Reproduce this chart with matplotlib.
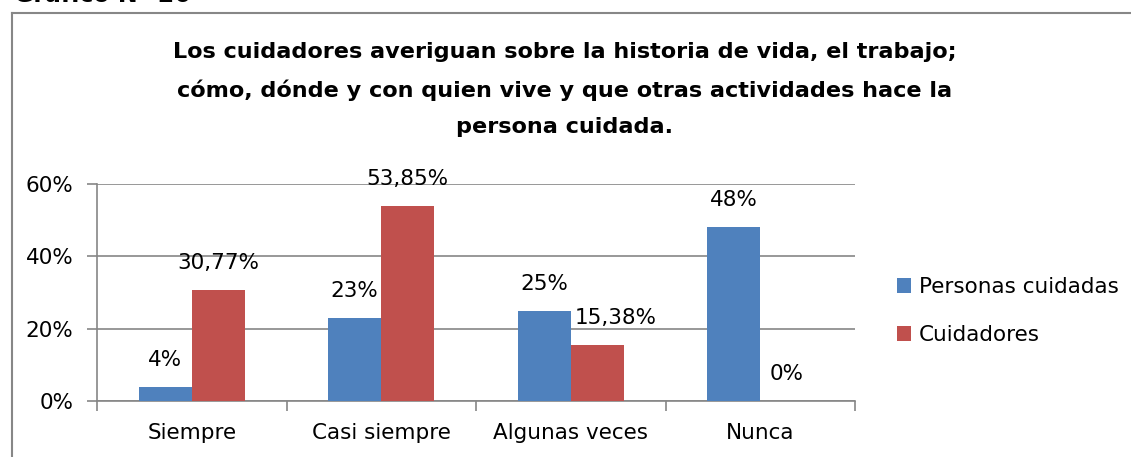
import matplotlib
matplotlib.use("Agg")
import matplotlib.pyplot as plt
from matplotlib.lines import Line2D

categories = ["Siempre", "Casi siempre", "Algunas veces", "Nunca"]
personas = [4, 23, 25, 48]
cuidadores = [30.77, 53.85, 15.38, 0]
personas_labels = ["4%", "23%", "25%", "48%"]
cuidadores_labels = ["30,77%", "53,85%", "15,38%", "0%"]
yticks = [0, 20, 40, 60]
ytick_labels = ["0%", "20%", "40%", "60%"]
series_names = ["Personas cuidadas", "Cuidadores"]
title_lines = ["Los cuidadores averiguan sobre la historia de vida, el trabajo;",
               "cómo, dónde y con quien vive y que otras actividades hace la",
               "persona cuidada."]

plt.rcParams['font.family'] = ['DejaVu Sans']

W, H = 1131, 457
fig = plt.figure(figsize=(W / 100, H / 100), dpi=100)
ax = fig.add_axes([97 / W, 1 - 401 / H, (855 - 97) / W, (401 - 184) / H])

blue = "#4F81BD"
red = "#C0504D"
grid = "#868686"

x = list(range(len(categories)))
bw = 0.28
b1 = ax.bar([i - bw / 2 for i in x], personas, width=bw, color=blue, label=series_names[0], zorder=3)
b2 = ax.bar([i + bw / 2 for i in x], cuidadores, width=bw, color=red, label=series_names[1], zorder=3)

fs = 15.5
for rect, lab in zip(b1, personas_labels):
    ax.annotate(lab, (rect.get_x() + rect.get_width() / 2, rect.get_height()),
                xytext=(0, 27), textcoords="offset pixels", ha="center", va="center",
                fontsize=fs, color="black", zorder=4)
dx = [0, 0, 18, 0]
for rect, lab, d in zip(b2, cuidadores_labels, dx):
    ax.annotate(lab, (rect.get_x() + rect.get_width() / 2, rect.get_height()),
                xytext=(d, 27), textcoords="offset pixels", ha="center", va="center",
                fontsize=fs, color="black", zorder=4)

ax.set_xlim(-0.5, len(categories) - 0.5)
ax.set_ylim(0, 60)
ax.set_yticks(yticks)
ax.set_yticklabels(ytick_labels, fontsize=fs)
ax.yaxis.grid(True, color=grid, linewidth=1.2, zorder=0)
ax.set_axisbelow(True)

ax.set_xticks([i - 0.5 for i in range(len(categories) + 1)])
ax.set_xticklabels([])
ax.set_xticks(x, minor=True)
ax.set_xticklabels(categories, minor=True, fontsize=fs)
ax.tick_params(axis="x", which="minor", length=0, pad=16)
ax.tick_params(axis="x", which="major", length=7, width=1.2, color=grid, direction="out")
ax.tick_params(axis="y", length=7, width=1.2, color=grid, direction="out", pad=10)

for s in ["top", "right"]:
    ax.spines[s].set_visible(False)
for s in ["left", "bottom"]:
    ax.spines[s].set_color(grid)
    ax.spines[s].set_linewidth(1.2)

# title: three centred lines at the reference line positions
for line, ypix in zip(title_lines, [52, 90, 127]):
    fig.text(565 / W, 1 - ypix / H, line, ha="center", va="center", fontsize=16.1,
             fontweight="bold")

leg = fig.legend(handles=[b1, b2], loc="upper left", bbox_to_anchor=(897 / W, 1 - 277 / H),
                 frameon=False, fontsize=fs, handlelength=0.65, handleheight=0.65,
                 handletextpad=0.35, labelspacing=1.3, borderaxespad=0, borderpad=0)

# outer chart frame (partially visible)
fig.add_artist(Line2D([12 / W, 12 / W], [0, 1 - 13 / H], color="#878787", linewidth=1.5))
fig.add_artist(Line2D([12 / W, 1], [1 - 13 / H, 1 - 13 / H], color="#878787", linewidth=1.5))

# cut-off heading above chart
fig.text(14 / W, 1 - 1.5 / H, "Gráfico N° 26", ha="left", va="baseline", fontsize=17,
         fontweight="bold")

fig.savefig("out.png", dpi=100)
